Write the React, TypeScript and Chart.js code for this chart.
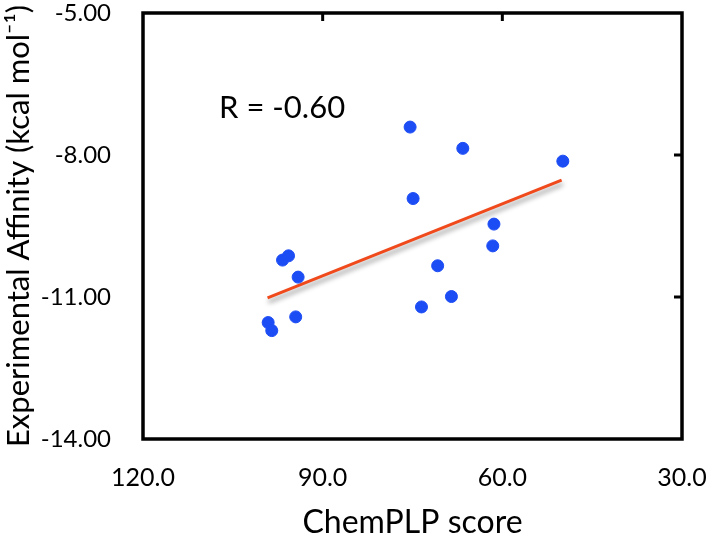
import React, { useEffect, useRef } from "react";
import { Chart, registerables } from "chart.js";

Chart.register(...registerables);

const chemPLP = [75.4, 66.6, 49.9, 74.9, 61.4, 61.6, 70.8, 68.5, 73.5, 96.7, 95.7, 94.1, 94.5, 99.1, 98.5];
const affinity = [-7.41, -7.86, -8.13, -8.92, -9.46, -9.92, -10.34, -10.99, -11.21, -10.22, -10.13, -10.58, -11.42, -11.54, -11.71];
const fitX = [99.2, 50.1];
const fitY = [-11.02, -8.53];
const xTicks = [120, 90, 60, 30];
const yTicks = [-14, -11, -8, -5];
const rLabel = "R = -0.60";

const FONT = "Lato, 'Open Sans', sans-serif";

const framePlugin = {
  id: "frame",
  beforeDatasetDraw(chart: any, args: any) {
    if (args.index === 1) {
      const ctx = chart.ctx;
      ctx.save();
      ctx.shadowColor = "rgba(0,0,0,0.4)";
      ctx.shadowOffsetX = 1;
      ctx.shadowOffsetY = 4;
      ctx.shadowBlur = 5;
    }
  },
  afterDatasetDraw(chart: any, args: any) {
    if (args.index === 1) chart.ctx.restore();
  },
  afterDraw(chart: any) {
    const { ctx, chartArea: a, scales } = chart;
    ctx.save();
    ctx.strokeStyle = "#000";
    ctx.lineWidth = 3.5;
    ctx.strokeRect(a.left, a.top, a.right - a.left, a.bottom - a.top);
    ctx.lineWidth = 3;
    const tl = 8;
    xTicks.slice(1, -1).forEach((v) => {
      const px = scales.x.getPixelForValue(v);
      ctx.beginPath();
      ctx.moveTo(px, a.top);
      ctx.lineTo(px, a.top + tl);
      ctx.stroke();
    });
    yTicks.slice(1, -1).forEach((v) => {
      const py = scales.y.getPixelForValue(v);
      ctx.beginPath();
      ctx.moveTo(a.right, py);
      ctx.lineTo(a.right - tl, py);
      ctx.stroke();
    });
    ctx.fillStyle = "#000";
    ctx.font = `31px ${FONT}`;
    ctx.textAlign = "left";
    ctx.textBaseline = "middle";
    ctx.fillText(rLabel, scales.x.getPixelForValue(107.3), scales.y.getPixelForValue(-7.0));
    ctx.restore();
  },
};

export default function App() {
  const ref = useRef<HTMLCanvasElement>(null);
  useEffect(() => {
    document.body.style.margin = "0";
    const chart = new Chart(ref.current!, {
      type: "scatter",
      data: {
        datasets: [
          {
            data: chemPLP.map((x, i) => ({ x, y: affinity[i] })),
            backgroundColor: "#1c4cf4",
            borderColor: "#1c4cf4",
            pointRadius: 6,
            pointHoverRadius: 6,
          },
          {
            type: "line",
            data: fitX.map((x, i) => ({ x, y: fitY[i] })),
            borderColor: "#f04a1c",
            borderWidth: 3,
            pointRadius: 0,
            fill: false,
          } as any,
        ],
      },
      plugins: [framePlugin],
      options: {
        animation: false,
        responsive: false,
        layout: { padding: { top: 13, right: 28, left: 0, bottom: 0 } },
        plugins: { legend: { display: false }, tooltip: { enabled: false } },
        scales: {
          x: {
            type: "linear",
            reverse: true,
            min: 30,
            max: 120,
            afterBuildTicks: (s: any) => {
              s.ticks = xTicks.map((v) => ({ value: v }));
            },
            afterFit: (s: any) => {
              s.height = 105;
              s.paddingLeft = 0;
              s.paddingRight = 0;
            },
            ticks: {
              callback: (v: any) => Number(v).toFixed(1),
              font: { family: FONT, size: 25 },
              color: "#000",
              padding: 24,
              maxRotation: 0,
            },
            grid: { display: false, drawTicks: false },
            border: { display: false },
            title: {
              display: true,
              text: "ChemPLP score",
              font: { family: FONT, size: 32 },
              color: "#000",
              padding: { top: 0, bottom: 2 },
            },
          },
          y: {
            type: "linear",
            min: -14,
            max: -5,
            afterBuildTicks: (s: any) => {
              s.ticks = yTicks.map((v) => ({ value: v }));
            },
            afterFit: (s: any) => {
              s.width = 143;
              s.paddingTop = 0;
              s.paddingBottom = 0;
            },
            ticks: {
              callback: (v: any) => Number(v).toFixed(2),
              font: { family: FONT, size: 24 },
              color: "#000",
              padding: 32,
            },
            grid: { display: false, drawTicks: false },
            border: { display: false },
            title: {
              display: true,
              text: "Experimental Affinity (kcal mol\u207B\u00B9)",
              font: { family: FONT, size: 31 },
              color: "#000",
              padding: { top: 0, bottom: 0 },
            },
          },
        },
      },
    });
    return () => chart.destroy();
  }, []);
  return <canvas ref={ref} width={710} height={544} style={{ display: "block" }} />;
}
